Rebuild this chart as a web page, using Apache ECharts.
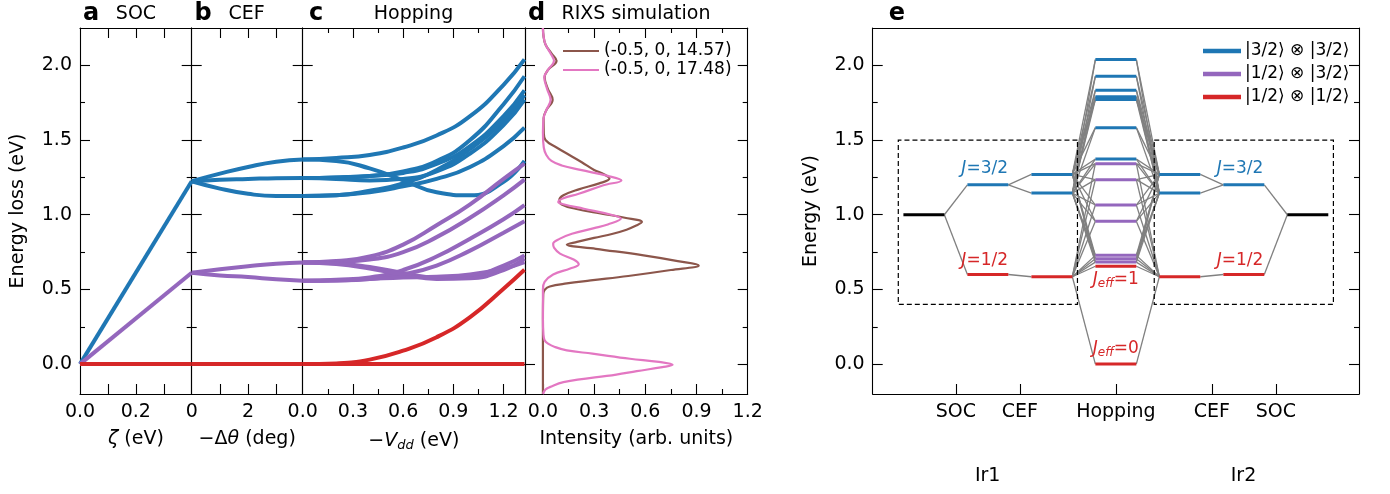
<!DOCTYPE html>
<html>
<head>
<meta charset="utf-8">
<script src="https://cdn.jsdelivr.net/npm/echarts@6.0.0/dist/echarts.min.js"></script>
<style>
html, body { margin: 0; padding: 0; background: #fff; }
#chart { width: 1390px; height: 494px; }
</style>
</head>
<body>
<div id="chart"></div>
<script>
// ---------- values ----------
// a: SOC
const socZeta = [0, 0.4];
const socJ32 = [0, 1.224];
const socJ12 = [0, 0.612];
const socGround = [0, 0];

// b: CEF
const cefTheta = [0, 1, 2, 3, 3.94];
const cefBlue = [
  [1.224, 1.275, 1.32, 1.355, 1.369],
  [1.224, 1.235, 1.24, 1.245, 1.246],
  [1.224, 1.175, 1.14, 1.125, 1.125]
];
const cefPurple = [
  [0.612, 0.635, 0.655, 0.672, 0.68],
  [0.612, 0.594, 0.583, 0.568, 0.558]
];
const cefRed = [[0, 0, 0, 0, 0]];

// c: hopping
const hopV = [0, 0.2, 0.4, 0.6, 0.8, 1.0, 1.2, 1.325];
const hopBlue = [
  [1.369, 1.38, 1.40, 1.45, 1.53, 1.66, 1.87, 2.04],
  [1.246, 1.25, 1.26, 1.29, 1.36, 1.50, 1.74, 1.927],
  [1.246, 1.25, 1.26, 1.28, 1.34, 1.46, 1.66, 1.833],
  [1.125, 1.13, 1.16, 1.21, 1.30, 1.44, 1.63, 1.80],
  [1.246, 1.24, 1.23, 1.24, 1.29, 1.41, 1.60, 1.771],
  [1.125, 1.13, 1.15, 1.19, 1.24, 1.32, 1.46, 1.583],
  [1.369, 1.36, 1.31, 1.23, 1.15, 1.13, 1.22, 1.36]
];
const hopPurple = [
  [0.68, 0.69, 0.72, 0.80, 0.93, 1.07, 1.24, 1.342],
  [0.68, 0.685, 0.70, 0.75, 0.85, 0.98, 1.13, 1.235],
  [0.558, 0.565, 0.58, 0.63, 0.72, 0.84, 0.97, 1.065],
  [0.558, 0.56, 0.57, 0.60, 0.66, 0.76, 0.88, 0.956],
  [0.68, 0.675, 0.65, 0.61, 0.58, 0.59, 0.66, 0.728],
  [0.68, 0.67, 0.64, 0.60, 0.57, 0.575, 0.63, 0.706],
  [0.558, 0.56, 0.57, 0.58, 0.585, 0.60, 0.64, 0.683]
];
const hopRed = [
  [0, 0, 0, 0, 0, 0, 0, 0],
  [0, 0.005, 0.03, 0.09, 0.18, 0.315, 0.505, 0.632]
];

// d: RIXS simulation (energy, intensity)
const brownName = '(-0.5, 0, 14.57)';
const brownE = [-0.2, 0.3, 0.47, 0.5, 0.52, 0.54, 0.56, 0.59, 0.63, 0.661, 0.69, 0.728, 0.772, 0.80, 0.818, 0.845,
  0.873, 0.90, 0.929, 0.951, 0.98, 1.007, 1.04, 1.069, 1.097, 1.13, 1.17, 1.21, 1.242, 1.27, 1.30, 1.35, 1.40,
  1.45, 1.50, 1.55, 1.646, 1.70, 1.77, 1.84, 1.92, 1.97, 2.03, 2.08, 2.14, 2.20, 2.25];
const brownI = [0, 0, 0.002, 0.012, 0.04, 0.14, 0.28, 0.50, 0.75, 0.913, 0.79, 0.59, 0.31, 0.14, 0.20, 0.30,
  0.41, 0.49, 0.55, 0.58, 0.48, 0.345, 0.19, 0.11, 0.096, 0.12, 0.21, 0.33, 0.39, 0.36, 0.30, 0.23, 0.155,
  0.08, 0.015, 0.005, 0.004, 0.02, 0.057, 0.03, 0.01, 0.03, 0.08, 0.05, 0.015, 0.003, 0];
const pinkName = '(-0.5, 0, 17.48)';
const pinkE = [-0.2, -0.17, -0.154, -0.12, -0.07, -0.047, -0.02, -0.005, 0.015, 0.036, 0.07, 0.092, 0.115, 0.137,
  0.16, 0.2, 0.3, 0.5, 0.55, 0.6, 0.64, 0.668, 0.70, 0.74, 0.78, 0.806, 0.84, 0.873, 0.91, 0.935, 0.974, 1.00,
  1.04, 1.07, 1.085, 1.11, 1.14, 1.196, 1.23, 1.26, 1.30, 1.33, 1.36, 1.40, 1.45, 1.55, 1.646, 1.70, 1.77,
  1.84, 1.92, 1.97, 2.03, 2.08, 2.14, 2.20, 2.25];
const pinkI = [0, 0.015, 0.04, 0.12, 0.43, 0.55, 0.70, 0.76, 0.68, 0.51, 0.29, 0.14, 0.07, 0.03,
  0.01, 0.003, 0, 0, 0.01, 0.06, 0.16, 0.21, 0.18, 0.10, 0.065, 0.06, 0.10, 0.17, 0.30, 0.38, 0.457, 0.40,
  0.24, 0.12, 0.09, 0.12, 0.21, 0.35, 0.46, 0.38, 0.22, 0.11, 0.05, 0.02, 0.005, 0, 0.004, 0.02, 0.045,
  0.025, 0.008, 0.03, 0.065, 0.045, 0.015, 0.003, 0];

// e: level diagram
const levIon = [1.0];
const levSocBlue = [1.2];
const levSocRed = [0.6];
const levCefBlue = [1.27, 1.145];
const levCefRed = [0.585];
const levHopBlue = [2.039, 1.927, 1.833, 1.79, 1.771, 1.583, 1.373];
const levHopPurple = [1.342, 1.235, 1.065, 0.956, 0.728, 0.706, 0.683];
const levHopRed = [0.655, 0.0];
const boxE = [0.4, 1.5];
const eTickNames = ['SOC', 'CEF', 'Hopping', 'CEF', 'SOC'];
const legBlue = '|3/2⟩ ⊗ |3/2⟩';
const legPurple = '|1/2⟩ ⊗ |3/2⟩';
const legRed = '|1/2⟩ ⊗ |1/2⟩';

// ---------- styles / layout ----------
const BLUE = '#1f77b4', PURPLE = '#9467bd', RED = '#d62728', BROWN = '#8c564b', PINK = '#e377c2', GRAY = '#808080';
const AX = '#000';
const FS = 19;
const GT = 28, GH = 366;
const Y_MIN = -0.2, Y_MAX = 2.25;
const yMajor = [0, 0.5, 1, 1.5, 2], yMinor = [0.25, 0.75, 1.25, 1.75];
const f1 = v => v.toFixed(1);

// column centres in panel e, half width of a level
const eTickPos = [-2.5, -1.5, 0, 1.5, 2.5];
const colIon = 3, colSoc = 2, colCef = 1, colHop = 0, hw = 0.32;

const panels = [
  {left: 80, width: 111.7, xmin: 0, xmax: 0.4, xMajor: [0.1, 0.2, 0.3], xMinor: [], xLabels: [0, 0.2], fmt: f1,
    name: '{i|ζ} (eV)', yLabels: true, yName: 'Energy loss (eV)'},
  {left: 191.7, width: 111, xmin: 0, xmax: 3.94, xMajor: [1, 2, 3], xMinor: [], xLabels: [0, 2], fmt: v => String(v),
    name: '−Δ{i|θ} (deg)'},
  {left: 302.7, width: 222.3, xmin: 0, xmax: 1.328, xMajor: [0.3, 0.6, 0.9, 1.2], xMinor: [0.15, 0.45, 0.75, 1.05],
    xLabels: [0, 0.3, 0.6, 0.9, 1.2], fmt: f1, name: '−{i|V}{s|dd} (eV)'},
  {left: 525, width: 222.7, xmin: -0.105, xmax: 1.2, xMajor: [0, 0.3, 0.6, 0.9], xMinor: [0.15, 0.45, 0.75, 1.05],
    xLabels: [0, 0.3, 0.6, 0.9, 1.2], fmt: f1, name: 'Intensity (arb. units)'},
  {left: 872.7, width: 486.3, xmin: -3.8, xmax: 3.8, xMajor: eTickPos, xMinor: [], xLabels: eTickPos,
    fmt: v => eTickNames[eTickPos.indexOf(v)], name: '', noTop: true, yLabels: true, yName: 'Energy (eV)'}
];

const grids = [], xAxes = [], yAxes = [];
const nameRich = {
  i: {fontStyle: 'italic', fontSize: FS, color: '#000'},
  s: {fontStyle: 'italic', fontSize: 13, color: '#000', padding: [9, 0, 0, 0]}
};
function tick(vals, len) {
  if (!vals.length) return {show: false};
  return {show: true, inside: true, length: len, customValues: vals, lineStyle: {color: AX, width: 1.1}};
}
panels.forEach(p => {
  const gi = grids.length;
  grids.push({left: p.left, top: GT, width: p.width, height: GH});
  grids.push({left: p.left, top: GT, width: p.width, height: GH});
  const line = {show: true, onZero: false, lineStyle: {color: AX, width: 1.1}};
  const noLine = {show: false, onZero: false};
  const xb = {type: 'value', min: p.xmin, max: p.xmax, splitLine: {show: false}};
  const yb = {type: 'value', min: Y_MIN, max: Y_MAX, splitLine: {show: false}};
  p.xi = xAxes.length;
  xAxes.push(Object.assign({}, xb, {gridIndex: gi, position: 'bottom', axisLine: line, axisTick: tick(p.xMajor, 10),
    axisLabel: {customValues: p.xLabels, formatter: p.fmt, fontSize: FS, color: '#000', margin: 9},
    name: p.name, nameLocation: 'middle', nameGap: 36,
    nameTextStyle: {fontSize: FS, color: '#000', rich: nameRich}}));
  xAxes.push(Object.assign({}, xb, {gridIndex: gi, position: 'top', axisLine: line,
    axisTick: p.noTop ? {show: false} : tick(p.xMajor, 10), axisLabel: {show: false}}));
  xAxes.push(Object.assign({}, xb, {gridIndex: gi + 1, position: 'bottom', axisLine: noLine,
    axisTick: tick(p.xMinor, 5), axisLabel: {show: false}}));
  xAxes.push(Object.assign({}, xb, {gridIndex: gi + 1, position: 'top', axisLine: noLine,
    axisTick: p.noTop ? {show: false} : tick(p.xMinor, 5), axisLabel: {show: false}}));
  p.yi = yAxes.length;
  yAxes.push(Object.assign({}, yb, {gridIndex: gi, position: 'left', axisLine: line, axisTick: tick(yMajor, 10),
    axisLabel: p.yLabels ? {customValues: yMajor, formatter: f1, fontSize: FS, color: '#000', margin: 8} : {show: false},
    name: p.yName || '', nameLocation: 'middle', nameGap: 52, nameTextStyle: {fontSize: FS, color: '#000'}}));
  yAxes.push(Object.assign({}, yb, {gridIndex: gi, position: 'right', axisLine: line, axisTick: tick(yMajor, 10),
    axisLabel: {show: false}}));
  yAxes.push(Object.assign({}, yb, {gridIndex: gi + 1, position: 'left', axisLine: noLine, axisTick: tick(yMinor, 5),
    axisLabel: {show: false}}));
  yAxes.push(Object.assign({}, yb, {gridIndex: gi + 1, position: 'right', axisLine: noLine, axisTick: tick(yMinor, 5),
    axisLabel: {show: false}}));
});

function zip(xs, ys) { return xs.map((x, i) => [x, ys[i]]); }
function curve(p, xs, ys, color, width, extra) {
  return Object.assign({
    type: 'line', xAxisIndex: p.xi, yAxisIndex: p.yi, data: zip(xs, ys), symbol: 'none', showSymbol: false,
    smooth: 0.5, lineStyle: {color: color, width: width}, itemStyle: {color: color},
    silent: true, z: 3
  }, extra || {});
}

const series = [];
const [pa, pb, pc, pd, pe] = panels;
// a
series.push(curve(pa, socZeta, socJ32, BLUE, 4, {smooth: false}));
series.push(curve(pa, socZeta, socJ12, PURPLE, 4, {smooth: false}));
series.push(curve(pa, socZeta, socGround, RED, 4, {smooth: false}));
// b
cefBlue.forEach(ys => series.push(curve(pb, cefTheta, ys, BLUE, 4)));
cefPurple.forEach(ys => series.push(curve(pb, cefTheta, ys, PURPLE, 4)));
cefRed.forEach(ys => series.push(curve(pb, cefTheta, ys, RED, 4)));
// c
hopBlue.forEach(ys => series.push(curve(pc, hopV, ys, BLUE, 4)));
hopPurple.forEach(ys => series.push(curve(pc, hopV, ys, PURPLE, 4)));
hopRed.forEach(ys => series.push(curve(pc, hopV, ys, RED, 4)));
// d
series.push(curve(pd, brownI, brownE, BROWN, 2.2, {name: brownName, smooth: 0.4}));
series.push(curve(pd, pinkI, pinkE, PINK, 2.2, {name: pinkName, smooth: 0.4}));

// e: level segments
function seg(c, e) { return {coords: [[c - hw, e], [c + hw, e]]}; }
function both(c, e) { return [seg(-c, e), seg(c, e)]; }
const lvBlue = [], lvPurple = [], lvRed = [], lvBlack = [], conn = [];
levIon.forEach(e => lvBlack.push(...both(colIon, e)));
levSocBlue.forEach(e => lvBlue.push(...both(colSoc, e)));
levSocRed.forEach(e => lvRed.push(...both(colSoc, e)));
levCefBlue.forEach(e => lvBlue.push(...both(colCef, e)));
levCefRed.forEach(e => lvRed.push(...both(colCef, e)));
levHopBlue.forEach(e => lvBlue.push(seg(colHop, e)));
levHopPurple.forEach(e => lvPurple.push(seg(colHop, e)));
levHopRed.forEach(e => lvRed.push(seg(colHop, e)));
// connectors, mirrored for Ir1 (left) and Ir2 (right)
function link(c1, e1, c2, e2) {
  [-1, 1].forEach(s => conn.push({coords: [[s * (c1 - hw), e1], [s * (c2 + hw), e2]]}));
}
levIon.forEach(e => levSocBlue.concat(levSocRed).forEach(s => link(colIon, e, colSoc, s)));
levSocBlue.forEach(s => levCefBlue.forEach(c => link(colSoc, s, colCef, c)));
levSocRed.forEach(s => levCefRed.forEach(c => link(colSoc, s, colCef, c)));
levCefBlue.forEach(c => levHopBlue.concat(levHopPurple).forEach(h => link(colCef, c, colHop, h)));
levCefRed.forEach(c => levHopPurple.concat(levHopRed).forEach(h => link(colCef, c, colHop, h)));

function segs(name, data, color, width, z, type) {
  return {type: 'lines', name: name, coordinateSystem: 'cartesian2d', xAxisIndex: pe.xi, yAxisIndex: pe.yi,
    polyline: true, data: data, silent: true, z: z,
    lineStyle: {color: color, width: width, opacity: 1, type: type || 'solid'}, itemStyle: {color: color}};
}
series.push(segs('conn', conn, GRAY, 1.3, 2));
const bx0 = 0.6, bx1 = 3.4;
series.push(segs('box', [-1, 1].map(s => ({coords: [[s * bx0, boxE[1]], [s * bx1, boxE[1]], [s * bx1, boxE[0]],
  [s * bx0, boxE[0]], [s * bx0, boxE[1]]]})), '#000', 1.2, 2, [5, 3]));
series.push(segs('ion', lvBlack, '#000', 3, 4));
series.push(segs(legBlue, lvBlue, BLUE, 3, 4));
series.push(segs(legPurple, lvPurple, PURPLE, 3, 4));
series.push(segs(legRed, lvRed, RED, 3, 4));

// e: level labels
function lab(x, y, txt, color) {
  return {value: [x, y], label: {formatter: txt, color: color, opacity: 1,
    rich: {i: {fontStyle: 'italic', fontSize: 17, color: color},
      s: {fontStyle: 'italic', fontSize: 12, color: color, padding: [8, 0, 0, 0]}}}};
}
series.push({type: 'scatter', xAxisIndex: pe.xi, yAxisIndex: pe.yi, symbolSize: 1, silent: true, z: 5,
  itemStyle: {color: 'rgba(0,0,0,0)'},
  label: {show: true, position: 'inside', fontSize: 17, align: 'center', verticalAlign: 'middle',
    textBorderWidth: 0},
  data: [
    lab(-2.05, levSocBlue[0] + 0.11, '{i|J}=3/2', BLUE),
    lab(-2.05, levSocRed[0] + 0.095, '{i|J}=1/2', RED),
    lab(1.94, levSocBlue[0] + 0.11, '{i|J}=3/2', BLUE),
    lab(1.94, levSocRed[0] + 0.095, '{i|J}=1/2', RED),
    lab(0, levHopRed[0] - 0.09, '{i|J}{s|eff}=1', RED),
    lab(0, levHopRed[1] + 0.105, '{i|J}{s|eff}=0', RED)
  ]});

// panel titles and ion labels
const titles = [
  ['a', 91, true], ['SOC', 136, false], ['b', 203, true], ['CEF', 246.5, false],
  ['c', 316, true], ['Hopping', 413.5, false], ['d', 536.5, true], ['RIXS simulation', 636, false],
  ['e', 897, true]
];
const graphic = titles.map(([t, x, b]) => ({type: 'text', x: x, y: 14,
  style: {text: t, fill: '#000', font: (b ? 'bold 24px' : '19px') + ' "DejaVu Sans"',
    textAlign: 'center', textVerticalAlign: 'middle', align: 'center', verticalAlign: 'middle'}}));
[['Ir1', 987.7], ['Ir2', 1243.5]].forEach(([t, x]) => graphic.push({type: 'text', x: x, y: 476,
  style: {text: t, fill: '#000', font: '19px "DejaVu Sans"',
    textAlign: 'center', textVerticalAlign: 'middle', align: 'center', verticalAlign: 'middle'}}));

const option = {
  animation: false,
  backgroundColor: '#fff',
  textStyle: {fontFamily: 'DejaVu Sans'},
  grid: grids,
  xAxis: xAxes,
  yAxis: yAxes,
  legend: [
    {orient: 'vertical', left: 563, top: 42, padding: 0, itemGap: 1, itemWidth: 36, itemHeight: 2, icon: 'rect',
      selectedMode: false, textStyle: {fontSize: 17, color: '#000', lineHeight: 18},
      data: [{name: brownName, itemStyle: {color: BROWN}}, {name: pinkName, itemStyle: {color: PINK}}]},
    {orient: 'vertical', left: 1203, top: 42, padding: 0, itemGap: 5, itemWidth: 36, itemHeight: 2.5, icon: 'rect',
      selectedMode: false, textStyle: {fontSize: 17, color: '#000', lineHeight: 18},
      data: [{name: legBlue, itemStyle: {color: BLUE}}, {name: legPurple, itemStyle: {color: PURPLE}},
        {name: legRed, itemStyle: {color: RED}}]}
  ],
  graphic: graphic,
  series: series
};

const chart = echarts.init(document.getElementById('chart'), null, {renderer: 'canvas'});
chart.setOption(option);
</script>
</body>
</html>
